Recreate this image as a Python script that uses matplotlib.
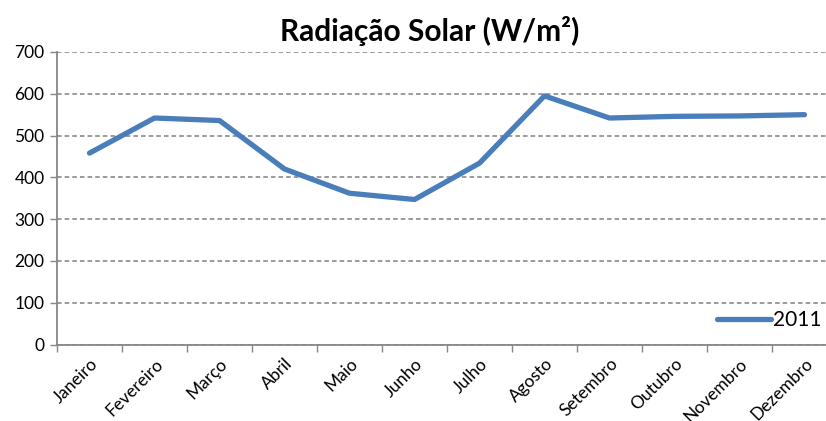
import matplotlib
matplotlib.use("Agg")
import matplotlib.pyplot as plt
from matplotlib.lines import Line2D
import numpy as np

months = ["Janeiro", "Fevereiro", "Março", "Abril", "Maio", "Junho",
          "Julho", "Agosto", "Setembro", "Outubro", "Novembro", "Dezembro"]
values_2011 = [458, 542, 536, 420, 362, 347, 434, 595, 542, 546, 547, 550]
y_ticks = [0, 100, 200, 300, 400, 500, 600, 700]
series_name = "2011"
title = "Radiação Solar (W/m²)"

plt.rcParams['font.family'] = ['Lato', 'DejaVu Sans']

W, H = 826, 421
fig = plt.figure(figsize=(W / 100, H / 100), dpi=100)
left, right = 57 / W, 837 / W
bottom, top = 1 - 344.5 / H, 1 - 52 / H
ax = fig.add_axes([left, bottom, right - left, top - bottom])

x = np.arange(len(months))
color = "#4a7ebb"
ax.plot(x, values_2011, color=color, lw=3.8, solid_joinstyle='round',
        solid_capstyle='round', clip_on=False, zorder=3)

ax.set_xlim(-0.5, len(months) - 0.5)
ax.set_ylim(0, 700)
ax.set_yticks(y_ticks)
ax.set_yticklabels([str(v) for v in y_ticks], fontsize=12.5)

ax.set_xticks(np.arange(len(months) + 1) - 0.5)
ax.set_xticklabels([])
ax.set_xticks(x, minor=True)
ax.set_xticklabels(months, minor=True, rotation=45, ha='right',
                   rotation_mode='anchor', fontsize=12.5)
ax.tick_params(axis='x', which='major', length=5, color='#868686', width=1)
ax.tick_params(axis='x', which='minor', length=0, pad=8)
ax.tick_params(axis='y', length=5, color='#868686', width=1, pad=4)

ax.grid(axis='y', color='#808080', ls=(0, (3, 2)), lw=1.1)
ax.set_axisbelow(True)
for s in ['top', 'right']:
    ax.spines[s].set_visible(False)
for s in ['left', 'bottom']:
    ax.spines[s].set_color('#868686')
    ax.spines[s].set_linewidth(1.3)

fig.text(430 / W, 1 - 31 / H, title, ha='center', va='center',
         fontsize=21.5, fontweight='bold')

handle = Line2D([0], [0], color=color, lw=3.8, solid_capstyle='round')
fig.legend([handle], [series_name], loc='center right',
           bbox_to_anchor=(824 / W, 1 - 320 / H), frameon=False,
           fontsize=15, handlelength=2.6, handletextpad=0.1,
           borderaxespad=0, borderpad=0.1)

fig.savefig("out.png", dpi=100)
